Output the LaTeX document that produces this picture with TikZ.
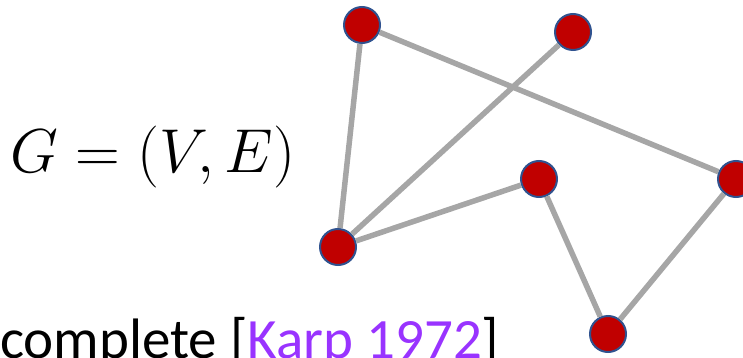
\RequirePackage{fix-cm}
\documentclass[tikz,border=0pt]{standalone}
\usepackage{fontspec}
\newfontfamily\calibri{Carlito}
\definecolor{vertexred}{RGB}{192,0,0}
\definecolor{vertexrim}{RGB}{47,82,143}
\definecolor{edgegray}{RGB}{166,166,166}
\definecolor{citepurple}{RGB}{153,51,255}

\tikzset{
  vertex/.style={circle,fill=vertexred,draw=vertexrim,line width=2pt,minimum size=36pt,inner sep=0pt},
  link/.style={draw=edgegray,line width=5.5pt}
}

\begin{document}
\begin{tikzpicture}[x=1pt,y=-1pt]
\useasboundingbox (0,0) rectangle (743,358);
\node[anchor=base west,inner sep=0pt,font=\fontsize{62}{66}\selectfont] (graph) at (10,172) {$G=(V,E)$};
\node[anchor=base west,inner sep=0pt,font=\calibri\fontsize{57}{62}\selectfont] (ref) at (0,358)
  {complete [{\color{citepurple}Karp 1972}]};

\node[vertex] (a) at (362,25) {};
\node[vertex] (b) at (573,32) {};
\node[vertex] (c) at (539,179) {};
\node[vertex] (d) at (736,179) {};
\node[vertex] (e) at (338,247) {};
\node[vertex] (f) at (608,334) {};

\draw[link] (a) -- (e);
\draw[link] (a) -- (d);
\draw[link] (b) -- (e);
\draw[link] (c) -- (e);
\draw[link] (c) -- (f);
\draw[link] (d) -- (f);
\end{tikzpicture}
\end{document}
